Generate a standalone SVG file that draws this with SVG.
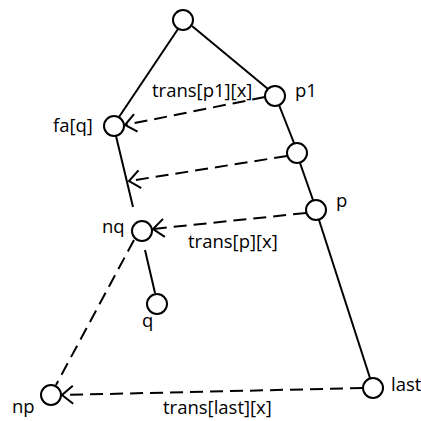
<svg xmlns="http://www.w3.org/2000/svg" width="421" height="421" viewBox="0 0 421 421">
  <style>
    .node { fill: #fff; stroke: #000; stroke-width: 2; }
    .edge { stroke: #000; stroke-width: 2; fill: none; }
    .trans { stroke: #000; stroke-width: 2; fill: none; stroke-dasharray: 13 7; marker-end: url(#chev); }
    .plain { stroke: #000; stroke-width: 2; fill: none; stroke-dasharray: 13 7; }
    text { font-family: "Open Sans", "Noto Sans", "DejaVu Sans", sans-serif; font-size: 18.5px; fill: #000; }
  </style>
  <defs>
    <marker id="chev" viewBox="-14 -11 16 22" refX="0" refY="0" markerWidth="16" markerHeight="22" markerUnits="userSpaceOnUse" orient="auto">
      <path d="M -11 -9 L 0 0 L -11 9" fill="none" stroke="#000" stroke-width="2"/>
    </marker>
  </defs>

  <!-- tree edges and transition arrows -->
  <g id="connectors">
    <line class="edge" x1="178" y1="29" x2="119" y2="117"/>
    <line class="edge" x1="192" y1="26" x2="268" y2="89"/>
    <line class="edge" x1="279" y1="105" x2="294" y2="143"/>
    <line class="edge" x1="300" y1="163" x2="313" y2="200"/>
    <line class="edge" x1="319" y1="220" x2="370" y2="378"/>
    <line class="edge" x1="116" y1="136" x2="133" y2="207"/>
    <line class="edge" x1="145" y1="250" x2="155" y2="293"/>

    <line class="trans" x1="265" y1="97" x2="125" y2="125"/>
    <line class="trans" x1="287" y1="156" x2="129" y2="181"/>
    <line class="trans" x1="306" y1="213" x2="153" y2="229"/>
    <line class="trans" x1="363" y1="388" x2="62" y2="395"/>
    <line class="plain" x1="134" y1="240" x2="56" y2="385"/>
  </g>

  <g id="root"><circle class="node" cx="183" cy="20" r="10"/></g>
  <g id="p1"><circle class="node" cx="275" cy="96" r="10"/><text x="295" y="97">p1</text></g>
  <g id="faq"><circle class="node" cx="114" cy="126" r="10"/><text x="53" y="132">fa[q]</text></g>
  <g id="mid"><circle class="node" cx="297" cy="153" r="10"/></g>
  <g id="p"><circle class="node" cx="316" cy="210" r="10"/><text x="336" y="207">p</text></g>
  <g id="nq"><circle class="node" cx="142" cy="231" r="10"/><text x="102" y="233">nq</text></g>
  <g id="q"><circle class="node" cx="157" cy="304" r="10"/><text x="142" y="327">q</text></g>
  <g id="np"><circle class="node" cx="51" cy="395" r="10"/><text x="12" y="413">np</text></g>
  <g id="last"><circle class="node" cx="373" cy="388" r="10"/><text x="391" y="391">last</text></g>

  <g id="labels">
    <text x="152" y="97">trans[p1][x]</text>
    <text x="188" y="248">trans[p][x]</text>
    <text x="163" y="414">trans[last][x]</text>
  </g>
</svg>
